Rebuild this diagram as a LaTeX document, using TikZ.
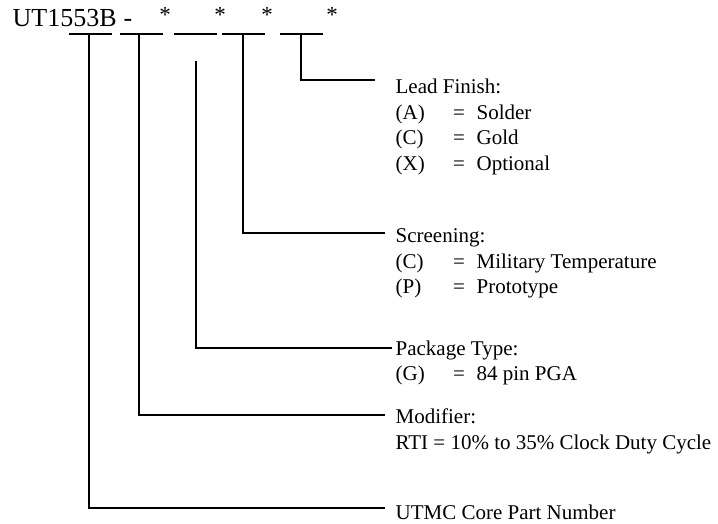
\documentclass[tikz,border=0pt]{standalone}
\usepackage{fontspec}
\setmainfont{Liberation Serif}
\begin{document}
\begin{tikzpicture}[x=1pt,y=-1pt,line width=1.3pt,
  ttl/.style={anchor=base west,inner sep=0pt,font=\fontsize{26}{30}\selectfont},
  ast/.style={anchor=base,inner sep=0pt,font=\fontsize{23}{26}\selectfont},
  txt/.style={anchor=base west,inner sep=0pt,font=\fontsize{21}{24}\selectfont},
  eqs/.style={anchor=base,inner sep=0pt,font=\fontsize{21}{24}\selectfont},
  wire/.style={line width=1.3pt}]
\useasboundingbox (0,0) rectangle (718,524);
% title
\node[ttl] (pn) at (12,27) {UT1553B};
\node[ttl,anchor=base] (dash) at (128,27) {-};
\node[ast] (a1) at (165,23) {*};
\node[ast] (a2) at (220,23) {*};
\node[ast] (a3) at (267,23) {*};
\node[ast] (a4) at (332,23) {*};
% underlines
\draw[wire] (69,34) -- (112,34);
\draw[wire] (120,34) -- (163,34);
\draw[wire] (174,34) -- (217,34);
\draw[wire] (222,34) -- (265,34);
\draw[wire] (280,34) -- (323,34);
% hook start points
\coordinate (u1) at (89,34);
\coordinate (u2) at (139,34);
\coordinate (u3) at (196,61);
\coordinate (u4) at (243,34);
\coordinate (u5) at (301,34);
% hook end points
\coordinate (e5) at (375,80);
\coordinate (e4) at (385,233);
\coordinate (e3) at (392,348);
\coordinate (e2) at (385,415);
\coordinate (e1) at (385,508);
\draw[wire] (u5) |- (e5);
\draw[wire] (u4) |- (e4);
\draw[wire] (u3) |- (e3);
\draw[wire] (u2) |- (e2);
\draw[wire] (u1) |- (e1);
% Lead Finish
\node[txt] (lf) at (395,94) {Lead Finish:};
\node[txt] (lfa) at (395,120) {(A)};
\node[eqs] (lfae) at (459,120) {=};
\node[txt] (lfav) at (476,120) {Solder};
\node[txt] (lfc) at (395,145) {(C)};
\node[eqs] (lfce) at (459,145) {=};
\node[txt] (lfcv) at (476,145) {Gold};
\node[txt] (lfx) at (395,171) {(X)};
\node[eqs] (lfxe) at (459,171) {=};
\node[txt] (lfxv) at (476,171) {Optional};
% Screening
\node[txt] (sc) at (395,242) {Screening:};
\node[txt] (scc) at (395,268) {(C)};
\node[eqs] (scce) at (459,268) {=};
\node[txt] (sccv) at (476,268) {Military Temperature};
\node[txt] (scp) at (395,293) {(P)};
\node[eqs] (scpe) at (459,293) {=};
\node[txt] (scpv) at (476,293) {Prototype};
% Package Type
\node[txt] (pt) at (395,355) {Package Type:};
\node[txt] (ptg) at (395,380) {(G)};
\node[eqs] (ptge) at (459,380) {=};
\node[txt] (ptgv) at (476,380) {84 pin PGA};
% Modifier
\node[txt] (md) at (395,423) {Modifier:};
\node[txt] (mdr) at (395,449) {RTI = 10\% to 35\% Clock Duty Cycle};
% Core
\node[txt] (core) at (395,519) {UTMC Core Part Number};
\end{tikzpicture}
\end{document}
